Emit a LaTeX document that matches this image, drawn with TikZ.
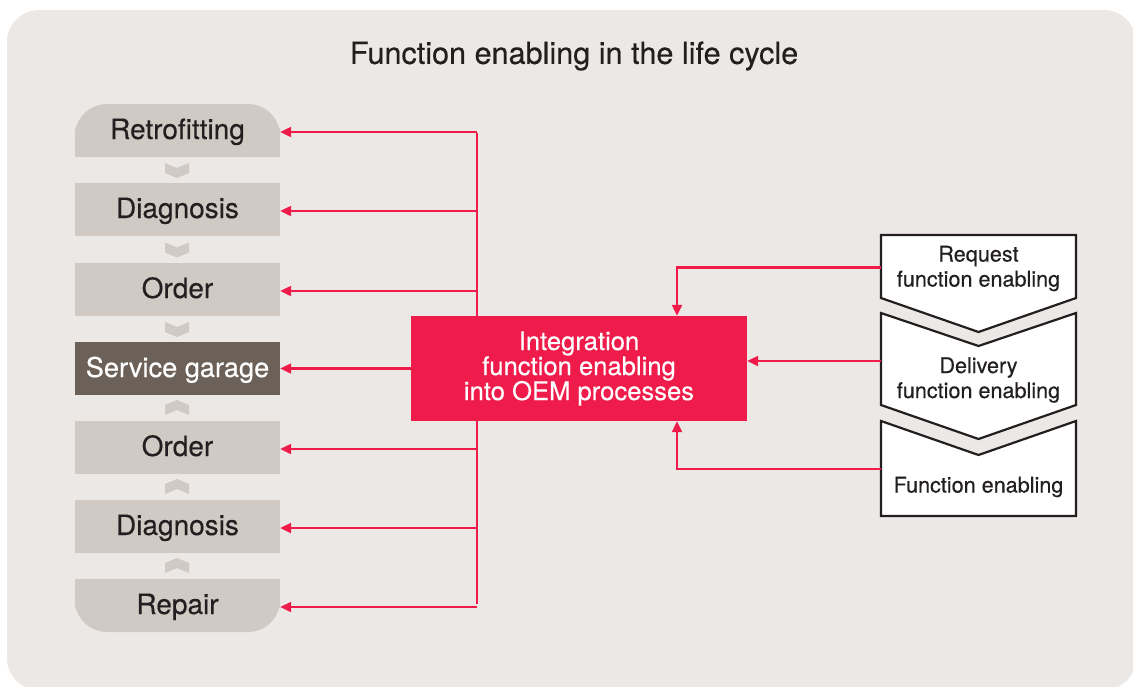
\documentclass[tikz,border=0pt]{standalone}
\usepackage{fontspec}
\setmainfont{TeX Gyre Heros}[FakeBold=0.35]
\usetikzlibrary{arrows.meta}
\definecolor{panel}{HTML}{ECE8E5}
\definecolor{stepgray}{HTML}{D0C9C4}
\definecolor{garagebrown}{HTML}{6B6158}
\definecolor{oemred}{HTML}{EE1B4B}
\definecolor{ink}{HTML}{231F20}
\tikzset{
  cyclebox/.style = {minimum width=205pt, minimum height=53pt, inner sep=0pt,
    text height=17pt, text depth=0pt, text=ink,
    font=\fontsize{28}{30}\selectfont},
  redline/.style = {draw=oemred, line width=2.2pt},
  redarrow/.style = {redline, -{Triangle[length=11pt,width=10pt]}},
  flowtext/.style = {minimum width=195pt, inner sep=0pt, align=center, text=ink,
    font=\fontsize{21.6}{25}\selectfont},
  flowshape/.style = {fill=white, draw=ink, line width=2.2pt}
}
\begin{document}
\begin{tikzpicture}[x=1pt,y=-1pt]
\useasboundingbox (0,0) rectangle (1133,686);
\fill[panel, rounded corners=32] (7,10) rectangle (1136,690);
\node[text=ink, font=\fontsize{30.6}{32}\selectfont] (title) at (574,56) {Function enabling in the life cycle};
% life cycle column
\fill[stepgray, rounded corners=32] (75,104) rectangle (280,157);
\fill[stepgray] (75,130) rectangle (280,157);
\fill[stepgray, rounded corners=32] (75,579) rectangle (280,632);
\fill[stepgray] (75,579) rectangle (280,605);
\node[cyclebox] (retro) at (177.5,130.5) {Retrofitting};
\node[cyclebox, fill=stepgray] (diagA) at (177.5,209.5) {Diagnosis};
\node[cyclebox, fill=stepgray] (orderA) at (177.5,289.5) {Order};
\node[cyclebox, fill=garagebrown, text=white, font=\fontsize{27.2}{30}\selectfont] (garage) at (177.5,368.5) {Service garage};
\node[cyclebox, fill=stepgray] (orderB) at (177.5,447.5) {Order};
\node[cyclebox, fill=stepgray] (diagB) at (177.5,526.5) {Diagnosis};
\node[cyclebox] (repair) at (177.5,605.5) {Repair};
\foreach \y in {170,249.5,329} {
\fill[stepgray] (177,\y) ++(-12,-7) -- ++(12,5) -- ++(12,-5) -- ++(0,10) -- ++(-12,5) -- ++(-12,-5) -- cycle;
}
\foreach \y in {408,487,566} {
\fill[stepgray] (177,\y) ++(-12,7) -- ++(12,-5) -- ++(12,5) -- ++(0,-10) -- ++(-12,-5) -- ++(-12,5) -- cycle;
}
% red bus to the column
\coordinate (bus) at (477,0);
\draw[redline] ([yshift=-2pt]bus |- retro.east) -- ([yshift=2pt]bus |- repair.east);
\foreach \b in {retro,diagA,orderA,orderB,diagB,repair} {
\draw[redarrow] ([yshift=-1.5pt]bus |- \b.east) -- ([yshift=-1.5pt]\b.east);
}
\node[fill=oemred, text=white, minimum width=336pt, minimum height=105pt, inner sep=0pt,
  align=center, font=\fontsize{25.6}{25}\selectfont] (integ) at (579,368.5)
  {Integration\\function enabling\\into OEM processes};
\draw[redarrow] (integ.west) -- (garage.east);
% function enabling steps
\draw[flowshape] (881,235) -- (1076,235) -- (1076,298) -- (978.5,332) -- (881,298) -- cycle;
\draw[flowshape] (881,313) -- (978.5,346) -- (1076,313) -- (1076,405) -- (978.5,439) -- (881,405) -- cycle;
\draw[flowshape] (881,421) -- (978.5,455) -- (1076,421) -- (1076,516) -- (881,516) -- cycle;
\node[flowtext] (req) at (978.5,268.5) {Request\\function enabling};
\node[flowtext] (deliv) at (978.5,380) {Delivery\\function enabling};
\node[flowtext, text height=15pt, text depth=0pt] (fen) at (978.5,485) {Function enabling};
\coordinate (tap) at (677,0);
\draw[redarrow] ([yshift=1pt]req.west) -| (tap |- integ.north);
\draw[redarrow] ([yshift=19pt]deliv.west) coordinate (dstart) -- (dstart -| integ.east);
\draw[redarrow] ([yshift=16pt]fen.west) -| (tap |- integ.south);
\end{tikzpicture}
\end{document}
